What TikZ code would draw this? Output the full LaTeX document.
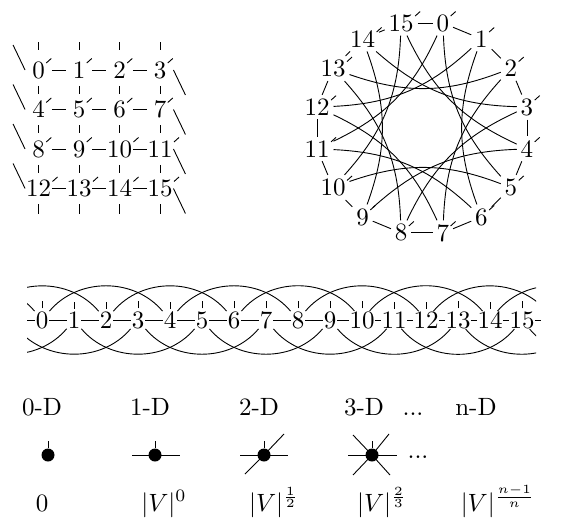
\RequirePackage{fix-cm}
\documentclass[tikz,border=0pt]{standalone}
\usepackage{graphicx}
\usetikzlibrary{calc}
\newcommand\T[1]{\scalebox{2.5}{\fontsize{10}{12}\selectfont #1}}
\newcommand\ntick[2]{\draw ($(#1.center)+(#2+1.5,-7)$) -- ++(5,-4.5);}
\begin{document}
\begin{tikzpicture}[x=1pt,y=-1pt,line width=0.9pt,
  gnode/.style={rectangle,inner sep=0pt,minimum width=26pt,minimum height=31pt},
  cnode/.style={rectangle,inner sep=3.5pt},
  lnode/.style={rectangle,inner sep=0pt,minimum width=14pt,minimum height=16pt},
  dot/.style={circle,fill=black,inner sep=0pt,minimum size=13pt}]
\useasboundingbox (0,0) rectangle (577,529);
% ---------- 2-D grid ----------
\foreach \i in {0,...,15}{
  \pgfmathtruncatemacro\c{mod(\i,4)}
  \pgfmathtruncatemacro\r{div(\i,4)}
  \node[gnode] (g\i) at ({38.5+40.5*\c},{70+39.5*\r}) {\T{\i}};
}
\foreach \i in {0,1,2,4,5,6,8,9,10,12,13,14}{\pgfmathtruncatemacro\j{\i+1}\draw (g\i) -- (g\j);}
\foreach \i in {0,...,11}{\pgfmathtruncatemacro\j{\i+4}\draw (g\i) -- (g\j);}
\foreach \i in {0,1,2,3}{\draw ($(g\i.north)+(0,-4.5)$) -- ++(0,-8);}
\foreach \i in {12,...,15}{\draw (g\i.south) -- ++(0,10);}
\foreach \i in {3,7,11,15}{\draw (g\i.east) -- ++(12,25);}
\foreach \i in {0,4,8,12}{\draw (g\i.west) -- ++(-12,-25);}
\foreach \i in {0,...,15}{\pgfmathsetmacro\w{\i<10?6.25:12.5}\ntick{g\i}{\w}}
% ---------- circle ----------
\foreach \i in {0,...,15}{
  \pgfmathsetmacro\a{78.75-22.5*\i}
  \node[cnode] (c\i) at ({422+107*cos(\a)},{128-107*sin(\a)}) {\T{\i}};
}
\foreach \i in {0,...,15}{\pgfmathtruncatemacro\j{mod(\i+1,16)}\draw (c\i) -- (c\j);}
\foreach \i in {0,...,15}{\pgfmathtruncatemacro\j{mod(\i+5,16)}\draw (c\i) to[bend right=20] (c\j);}
\foreach \i in {0,...,15}{\pgfmathsetmacro\w{\i<10?6.25:12.5}\ntick{c\i}{\w}}
% ---------- 1-D line ----------
\foreach \i in {0,...,15}{\pgfmathtruncatemacro\k{\i+4}\node[lnode] (L\k) at ({42+32*\i},320) {\T{\i}};}
\foreach \k in {0,1,2,3,20,21,22,23}{\node[lnode] (L\k) at ({42+32*(\k-4)},320) {};}
\begin{scope}
\clip (27,270) rectangle (536,370);
\foreach \k in {3,...,19}{\pgfmathtruncatemacro\m{\k+1}\draw (L\k) -- (L\m);}
\foreach \k in {0,2,...,18}{\pgfmathtruncatemacro\m{\k+4}\draw (L\k) to[out=50,in=130] (L\m);}
\foreach \k in {1,3,...,19}{\pgfmathtruncatemacro\m{\k+4}\draw (L\k) to[out=-50,in=-130] (L\m);}
\end{scope}
\draw (L19.east) -- ++(6,0);
\foreach \i in {0,...,15}{\pgfmathtruncatemacro\k{\i+4}\draw ($(L\k.north)+(0,-2.5)$) -- ++(0,-7);}
% ---------- dimension icons ----------
\node[anchor=base] (t0) at (42,415) {\T{0-D}};
\node[anchor=base] (t1) at (150,415) {\T{1-D}};
\node[anchor=base] (t2) at (259,415) {\T{2-D}};
\node[anchor=base] (t3) at (364,415) {\T{3-D}};
\node[anchor=base] (td) at (413,415) {\T{...}};
\node[anchor=base] (tn) at (476,415) {\T{n-D}};
\node[dot] (d0) at (48,455) {};
\node[dot] (d1) at (155,455) {};
\node[dot] (d2) at (264,455) {};
\node[dot] (d3) at (372,455) {};
\node[anchor=base] (dd) at (418,458) {\T{...}};
\draw (d1.center) -- ++(-23,0) (d1.center) -- ++(25,0);
\draw (d2.center) -- ++(-24,0) (d2.center) -- ++(24,0);
\draw (d2.center) -- ++(-19,19) (d2.center) -- ++(20,-21);
\draw (d3.center) -- ++(-24,0) (d3.center) -- ++(25,0);
\draw (d3.center) -- ++(-19,-20) (d3.center) -- ++(18,20);
\draw (d3.center) -- ++(-19,20) (d3.center) -- ++(17,-21);
\foreach \d in {d0,d1,d2,d3}{\draw (\d.north) -- ++(0,-7);}
% ---------- bottom labels ----------
\node[anchor=base] (b0) at (42,511) {\T{0}};
\node[anchor=base] (b1) at (164,511) {\T{$|V|^{0}$}};
\node[anchor=base] (b2) at (274,511) {\T{$|V|^{\frac{1}{2}}$}};
\node[anchor=base] (b3) at (382,511) {\T{$|V|^{\frac{2}{3}}$}};
\node[anchor=base west] (b4) at (457,511) {\T{$|V|^{\frac{n-1}{n}}$}};
\end{tikzpicture}
\end{document}
